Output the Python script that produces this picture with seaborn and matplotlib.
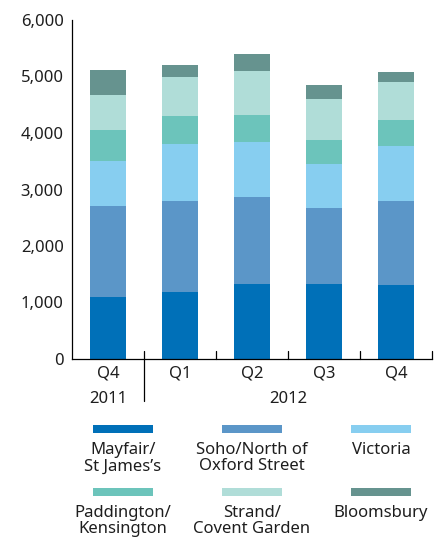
import matplotlib
matplotlib.use("Agg")
import matplotlib.pyplot as plt
import matplotlib.patches as mpatches
import seaborn as sns
import pandas as pd
import numpy as np

# Quarterly take-up by district (sq ft, thousands)
quarters = ["Q4", "Q1", "Q2", "Q3", "Q4 "]
quarter_labels = ["Q4", "Q1", "Q2", "Q3", "Q4"]
districts = ["Mayfair/\nSt James’s", "Soho/North of\nOxford Street", "Victoria",
             "Paddington/\nKensington", "Strand/\nCovent Garden", "Bloomsbury"]
mayfair = [1090, 1190, 1330, 1330, 1315]
soho = [1610, 1600, 1530, 1350, 1475]
victoria = [800, 1010, 980, 765, 975]
paddington = [550, 500, 480, 425, 460]
strand = [620, 690, 780, 730, 675]
bloomsbury = [445, 215, 300, 250, 180]
colors = ["#0070b8", "#5b96c8", "#87cef0", "#6cc4bb", "#b0ddd8", "#66938f"]
yticks = [0, 1000, 2000, 3000, 4000, 5000, 6000]
ytick_labels = ["0", "1,000", "2,000", "3,000", "4,000", "5,000", "6,000"]

sns.set_style("white")
plt.rcParams["font.family"] = ["Noto Sans", "DejaVu Sans"]
FS = 12
TXT = "#1e1e1e"

series = [mayfair, soho, victoria, paddington, strand, bloomsbury]
df = pd.DataFrame({"quarter": quarters})
cum = np.zeros(len(quarters))
for name, vals in zip(districts, series):
    cum = cum + np.array(vals)
    df[name] = cum.copy()

fig = plt.figure(figsize=(4.41, 5.39), dpi=100)
ax = fig.add_axes([72 / 441, 1 - 359 / 539, 360 / 441, 339 / 539])

# Stacked bars: draw cumulative totals from the top series down
for name, col in reversed(list(zip(districts, colors))):
    sns.barplot(data=df, x="quarter", y=name, color=col, width=0.49,
                saturation=1, ax=ax, edgecolor="none", linewidth=0)

ax.set_xlim(-0.5, 4.5)
ax.set_ylim(0, 6000)
ax.set_yticks(yticks)
ax.set_yticklabels(ytick_labels, fontsize=FS, color=TXT)
ax.set_xticks(range(len(quarters)))
ax.set_xticklabels(quarter_labels, fontsize=FS, color=TXT)
ax.tick_params(axis="x", length=0, pad=5)
ax.tick_params(axis="y", length=0, pad=6)
ax.set_xlabel("")
ax.set_ylabel("")
for s in ["top", "right"]:
    ax.spines[s].set_visible(False)
for s in ["left", "bottom"]:
    ax.spines[s].set_color("black")
    ax.spines[s].set_linewidth(0.9)

# Group separator ticks along the category axis
xt = ax.get_xaxis_transform()
for b in [1.5, 2.5, 3.5, 4.5]:
    ax.plot([b, b], [0, 8 / 339], color="black", lw=0.9, transform=xt, clip_on=False)
ax.plot([0.5, 0.5], [8 / 339, -42 / 339], color="black", lw=0.9, transform=xt, clip_on=False)

# Year labels
ax.text(0, -40 / 339, "2011", transform=xt, ha="center", va="center", fontsize=FS, color=TXT)
ax.text(2.5, -40 / 339, "2012", transform=xt, ha="center", va="center", fontsize=FS, color=TXT)

# Legend: swatch above each label, 3 columns x 2 rows
col_x = [122.7, 252, 381]
row_patch_y = [425, 488]
for i, (name, col) in enumerate(zip(districts, colors)):
    r, c = divmod(i, 3)
    cx = col_x[c]
    py = row_patch_y[r]
    fig.patches.append(mpatches.Rectangle(((cx - 30) / 441, 1 - (py + 8) / 539),
                                          60 / 441, 8 / 539, transform=fig.transFigure,
                                          facecolor=col, edgecolor="none"))
    fig.text(cx / 441, 1 - (py + 17) / 539, name, ha="center", va="top",
             fontsize=FS, color=TXT, linespacing=1.03)

fig.savefig("out.png", dpi=100)
